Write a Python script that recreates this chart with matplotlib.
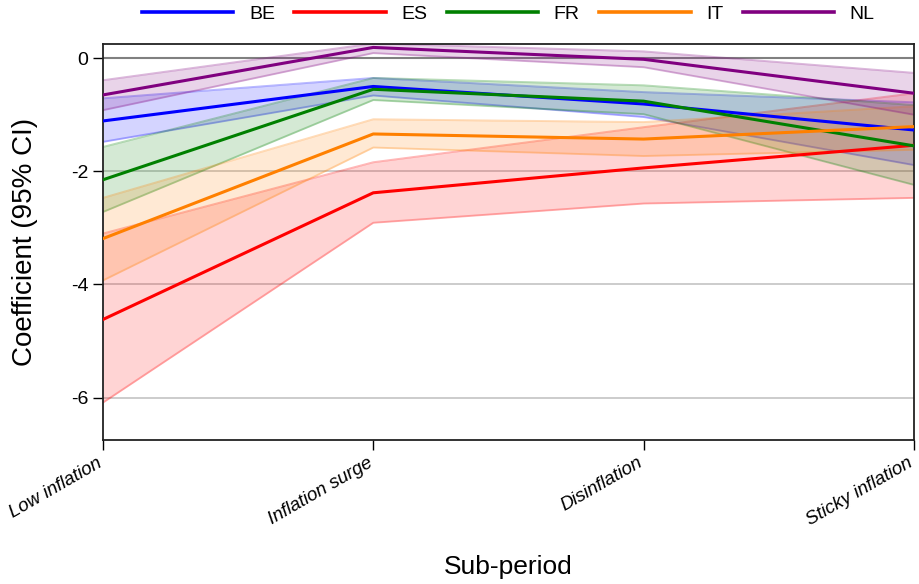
import matplotlib
matplotlib.use("Agg")
import matplotlib.pyplot as plt
import numpy as np

plt.rcParams['font.family'] = ['Liberation Sans', 'DejaVu Sans']

periods = ["Low inflation", "Inflation surge", "Disinflation", "Sticky inflation"]
countries = ["BE", "ES", "FR", "IT", "NL"]
colors = {"BE": "#0000ff", "ES": "#ff0000", "FR": "#008000", "IT": "#ff8000", "NL": "#800080"}

coef_BE = [-1.11, -0.50, -0.81, -1.27]
low_BE = [-1.48, -0.66, -1.04, -1.89]
high_BE = [-0.71, -0.35, -0.60, -0.78]

coef_ES = [-4.62, -2.38, -1.94, -1.54]
low_ES = [-6.09, -2.91, -2.57, -2.47]
high_ES = [-3.10, -1.84, -1.22, -0.62]

coef_FR = [-2.15, -0.55, -0.76, -1.55]
low_FR = [-2.72, -0.74, -0.99, -2.24]
high_FR = [-1.57, -0.35, -0.48, -0.83]

coef_IT = [-3.19, -1.34, -1.43, -1.21]
low_IT = [-3.93, -1.58, -1.73, -1.62]
high_IT = [-2.47, -1.08, -1.13, -0.85]

coef_NL = [-0.65, 0.19, -0.02, -0.62]
low_NL = [-0.92, 0.09, -0.16, -1.00]
high_NL = [-0.39, 0.26, 0.12, -0.26]

series = {
    "BE": (coef_BE, low_BE, high_BE),
    "ES": (coef_ES, low_ES, high_ES),
    "FR": (coef_FR, low_FR, high_FR),
    "IT": (coef_IT, low_IT, high_IT),
    "NL": (coef_NL, low_NL, high_NL),
}

fig = plt.figure(figsize=(9.19, 5.84), dpi=100)
ax = fig.add_axes([0.112, 0.2466, 0.8825, 0.678])

x = np.arange(len(periods))
ax.set_xlim(0, len(periods) - 1)
ax.set_ylim(-6.75, 0.25)

for yv in [-6, -4, -2]:
    ax.axhline(yv, color="#c8c8c8", lw=1.3, zorder=0)
ax.axhline(0, color="#808080", lw=1.5, zorder=0)

for c in countries:
    coef, lo, hi = series[c]
    col = colors[c]
    ax.fill_between(x, lo, hi, color=col, alpha=0.17, lw=0, zorder=1)
    ax.plot(x, lo, color=col, alpha=0.28, lw=1.4, zorder=1)
    ax.plot(x, hi, color=col, alpha=0.28, lw=1.4, zorder=1)
    ax.plot(x, coef, color=col, lw=2.2, label=c, zorder=3)

ax.set_xticks(x)
# slanted period labels anchored at their baseline's right end
ax.set_xticklabels(periods, rotation=30, ha="right", va="baseline",
                   rotation_mode="anchor", fontstyle="italic", fontsize=13.5)
ax.set_yticks([0, -2, -4, -6])
ax.set_yticklabels(["0", "-2", "-4", "-6"], fontsize=14)
ax.tick_params(axis="both", direction="out", length=7, width=1, color="black")
ax.tick_params(axis="x", pad=11.5)

for s in ax.spines.values():
    s.set_linewidth(1.3)
    s.set_color("#222222")

ax.set_ylabel("Coefficient (95% CI)", fontsize=20, labelpad=24)
ax.set_xlabel("Sub-period", fontsize=19, labelpad=19)

ax.legend(loc="center", bbox_to_anchor=(0.5, 1.076), ncol=5, frameon=False,
          fontsize=14, handlelength=4.7, handletextpad=0.8, columnspacing=1.0,
          borderaxespad=0.0, borderpad=0.0)
leg = ax.get_legend()
for h in leg.get_lines():
    h.set_linewidth(2.6)

fig.savefig("out.png", dpi=100)
